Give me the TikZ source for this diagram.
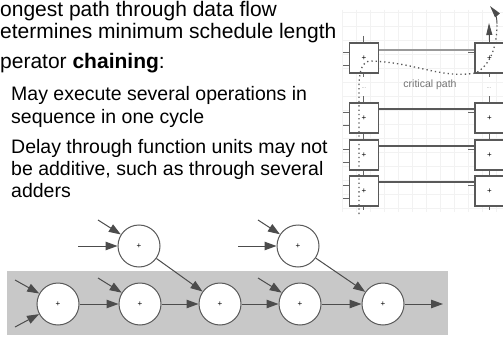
\documentclass[tikz,border=0pt]{standalone}
\usepackage{fontspec}
\setmainfont{Liberation Sans}
\usetikzlibrary{arrows.meta}
\definecolor{bandgray}{RGB}{200,200,200}
\begin{document}
\begin{tikzpicture}[x=1pt,y=-1pt,
  maintext/.style={anchor=base west, inner sep=0pt, font=\fontsize{21}{23}\selectfont},
  subtext/.style={anchor=base west, inner sep=0pt, font=\fontsize{19.5}{22}\selectfont},
  pbox/.style={draw=black!65, line width=1.1pt, fill=white, minimum width=29pt, minimum height=30pt, inner sep=0pt, font=\fontsize{8}{8}\selectfont},
  pinl/.style={draw=black!60, line width=0.8pt},
  wire/.style={draw=black!65, line width=1.6pt},
  wirelight/.style={draw=black!40, line width=1.6pt},
  crit/.style={draw=black!65, line width=1.3pt, dash pattern=on 1.3pt off 3pt},
  opnode/.style={circle, draw=black!65, line width=1pt, fill=white, minimum size=42pt, inner sep=0pt, font=\fontsize{8}{8}\selectfont},
  arr/.style={draw=black!70, line width=1pt, -{Triangle[length=12pt,width=8.5pt]}},
  uparr/.style={draw=black!70, line width=0.9pt, -{Triangle[length=12pt,width=6pt]}},
  lbl/.style={inner sep=0pt, text=black!55, font=\fontsize{10.5}{11}\selectfont},
  dots/.style={inner sep=0pt, text=black!40, font=\fontsize{6}{6}\selectfont}
]
\useasboundingbox (0,0) rectangle (503,337);
\clip (0,0) rectangle (503,337);
\fill[white] (0,0) rectangle (503,337);

% ---- text ----
\node[maintext] (l1) at (0,16.5) {ongest path through data flow};
\node[maintext] (l2) at (0,38.5) {etermines minimum schedule length};
\node[maintext] (l3) at (0,69) {perator \textbf{chaining}:};
\node[subtext] (s1) at (11,100) {May execute several operations in};
\node[subtext] (s2) at (11,123) {sequence in one cycle};
\node[subtext] (s3) at (11,153) {Delay through function units may not};
\node[subtext] (s4) at (11,175) {be additive, such as through several};
\node[subtext] (s5) at (11,197) {adders};

% ---- faint grid ----
\foreach \gx in {342,356,...,503} \draw[black!5, line width=0.4pt] (\gx,10) -- (\gx,212);
\foreach \gy in {12,26,...,212} \draw[black!5, line width=0.4pt] (342,\gy) -- (503,\gy);

% ---- right diagram: boxes ----
\foreach \yy in {58,118,155,191} {
  \draw[pinl] (363,\yy-22) -- (363,\yy-15);
  \draw[pinl] (363,\yy+15) -- (363,\yy+19);
  \draw[pinl] (343,\yy-6) -- (350,\yy-6);
  \draw[pinl] (343,\yy+7) -- (350,\yy+7);
  \draw[pinl] (468,\yy-6) -- (475,\yy-6);
  \draw[pinl] (489,\yy+15) -- (489,\yy+19);
}
\foreach \yy in {118,155,191} \draw[pinl] (489,\yy-22) -- (489,\yy-15);
\node[pbox] (La) at (364,58) {+};
\node[pbox] (Ra) at (489.5,58) {+};
\node[pbox] (Lb) at (364,118) {+};
\node[pbox] (Rb) at (489.5,118) {+};
\node[pbox] (Lc) at (364,155) {+};
\node[pbox] (Rc) at (489.5,155) {+};
\node[pbox] (Ld) at (364,191) {+};
\node[pbox] (Rd) at (489.5,191) {+};

\draw[wirelight] ([yshift=8pt]La.east) -- ([yshift=8pt]Ra.west);
\draw[wire] ([yshift=9pt]Lb.east) -- ([yshift=9pt]Rb.west);
\draw[wire] ([yshift=9pt]Lc.east) -- ([yshift=9pt]Rc.west);
\draw[wire] ([yshift=9pt]Ld.east) -- ([yshift=9pt]Rd.west);

\coordinate (outtop) at (489,23);
\draw[uparr] (Ra.north) -- (outtop);

\node[lbl] (cp) at (430,85) {critical path};
\node[dots] (da) at (364,88) {...};
\node[dots] (db) at (489,88) {...};

% critical path
\coordinate (cs) at (359,214);
\coordinate (ce) at (490,6);
\draw[crit] (cs) -- (359,82) .. controls (360,70) and (362,63) .. (369,61)
  .. controls (415,62) and (440,79) .. (476,73)
  .. controls (493,63) and (497,42) .. (497,24);
\draw[black!70, line width=0.9pt, -{Triangle[length=12pt,width=6pt]}] (497,24) .. controls (497,16) and (494,11) .. (ce);

% ---- bottom diagram ----
\fill[bandgray] (7,271) rectangle (448,335);
\node[opnode] (c1) at (58,304) {+};
\node[opnode] (c2) at (140,304) {+};
\node[opnode] (c3) at (220,304) {+};
\node[opnode] (c4) at (300,304) {+};
\node[opnode] (c5) at (383,304) {+};
\node[opnode] (t1) at (139,246) {+};
\node[opnode] (t2) at (298,246) {+};

\coordinate (i1a) at (15,280);
\coordinate (i1b) at (15,327);
\coordinate (i2) at (98,278);
\coordinate (i4) at (258,278);
\coordinate (it1a) at (98,220);
\coordinate (it1b) at (78,246);
\coordinate (it2a) at (258,220);
\coordinate (it2b) at (238,246);
\coordinate (o5) at (443,304);

\draw[arr] (i1a) -- (c1);
\draw[arr] (i1b) -- (c1);
\draw[arr] (c1) -- (c2);
\draw[arr] (i2) -- (c2);
\draw[arr] (c2) -- (c3);
\draw[arr] (t1) -- (c3);
\draw[arr] (c3) -- (c4);
\draw[arr] (i4) -- (c4);
\draw[arr] (c4) -- (c5);
\draw[arr] (t2) -- (c5);
\draw[arr] (c5) -- (o5);
\draw[arr] (it1a) -- (t1);
\draw[arr] (it1b) -- (t1);
\draw[arr] (it2a) -- (t2);
\draw[arr] (it2b) -- (t2);
\end{tikzpicture}
\end{document}
